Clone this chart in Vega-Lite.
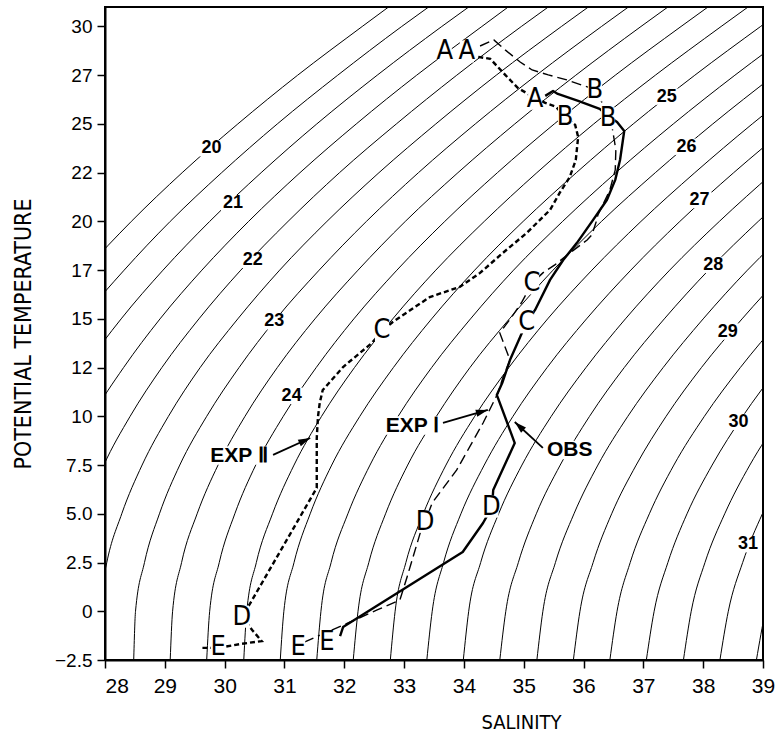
{
  "$schema": "https://vega.github.io/schema/vega-lite/v6.json",
  "width": 658,
  "height": 653,
  "autosize": {"type": "none"},
  "padding": {"left": 105, "top": 7, "right": 15, "bottom": 80},
  "background": "white",
  "datasets": {
    "iso": [
      {"c":20,"s":26.97,"t":15},{"c":20,"s":27.67,"t":17.5},{"c":20,"s":28.44,"t":20},{"c":20,"s":29.29,"t":22.5},{"c":20,"s":30.22,"t":25},{"c":20,"s":31.22,"t":27.5},{"c":20,"s":32.30,"t":30},{"c":20,"s":32.74,"t":31},
      {"c":20.5,"s":27.02,"t":12.5},{"c":20.5,"s":27.62,"t":15},{"c":20.5,"s":28.32,"t":17.5},{"c":20.5,"s":29.09,"t":20},{"c":20.5,"s":29.95,"t":22.5},{"c":20.5,"s":30.88,"t":25},{"c":20.5,"s":31.89,"t":27.5},{"c":20.5,"s":32.96,"t":30},{"c":20.5,"s":33.41,"t":31},
      {"c":21,"s":27.14,"t":10},{"c":21,"s":27.66,"t":12.5},{"c":21,"s":28.27,"t":15},{"c":21,"s":28.97,"t":17.5},{"c":21,"s":29.75,"t":20},{"c":21,"s":30.61,"t":22.5},{"c":21,"s":31.54,"t":25},{"c":21,"s":32.55,"t":27.5},{"c":21,"s":33.63,"t":30},{"c":21,"s":34.08,"t":31},
      {"c":21.5,"s":27.35,"t":7.5},{"c":21.5,"s":27.78,"t":10},{"c":21.5,"s":28.31,"t":12.5},{"c":21.5,"s":28.92,"t":15},{"c":21.5,"s":29.62,"t":17.5},{"c":21.5,"s":30.40,"t":20},{"c":21.5,"s":31.26,"t":22.5},{"c":21.5,"s":32.20,"t":25},{"c":21.5,"s":33.21,"t":27.5},{"c":21.5,"s":34.30,"t":30},{"c":21.5,"s":34.74,"t":31},
      {"c":22,"s":27.65,"t":5},{"c":22,"s":27.98,"t":7.5},{"c":22,"s":28.42,"t":10},{"c":22,"s":28.95,"t":12.5},{"c":22,"s":29.57,"t":15},{"c":22,"s":30.27,"t":17.5},{"c":22,"s":31.06,"t":20},{"c":22,"s":31.92,"t":22.5},{"c":22,"s":32.87,"t":25},{"c":22,"s":33.88,"t":27.5},{"c":22,"s":34.96,"t":30},{"c":22,"s":35.41,"t":31},
      {"c":22.5,"s":27.87,"t":-2.5},{"c":22.5,"s":27.89,"t":0},{"c":22.5,"s":28.03,"t":2.5},{"c":22.5,"s":28.28,"t":5},{"c":22.5,"s":28.62,"t":7.5},{"c":22.5,"s":29.06,"t":10},{"c":22.5,"s":29.59,"t":12.5},{"c":22.5,"s":30.22,"t":15},{"c":22.5,"s":30.92,"t":17.5},{"c":22.5,"s":31.71,"t":20},{"c":22.5,"s":32.58,"t":22.5},{"c":22.5,"s":33.53,"t":25},{"c":22.5,"s":34.54,"t":27.5},{"c":22.5,"s":35.63,"t":30},{"c":22.5,"s":36.08,"t":31},
      {"c":23,"s":28.48,"t":-2.5},{"c":23,"s":28.51,"t":0},{"c":23,"s":28.66,"t":2.5},{"c":23,"s":28.91,"t":5},{"c":23,"s":29.25,"t":7.5},{"c":23,"s":29.70,"t":10},{"c":23,"s":30.24,"t":12.5},{"c":23,"s":30.86,"t":15},{"c":23,"s":31.58,"t":17.5},{"c":23,"s":32.37,"t":20},{"c":23,"s":33.24,"t":22.5},{"c":23,"s":34.19,"t":25},{"c":23,"s":35.21,"t":27.5},{"c":23,"s":36.30,"t":30},{"c":23,"s":36.75,"t":31},
      {"c":23.5,"s":29.09,"t":-2.5},{"c":23.5,"s":29.13,"t":0},{"c":23.5,"s":29.28,"t":2.5},{"c":23.5,"s":29.54,"t":5},{"c":23.5,"s":29.89,"t":7.5},{"c":23.5,"s":30.34,"t":10},{"c":23.5,"s":30.88,"t":12.5},{"c":23.5,"s":31.51,"t":15},{"c":23.5,"s":32.23,"t":17.5},{"c":23.5,"s":33.02,"t":20},{"c":23.5,"s":33.90,"t":22.5},{"c":23.5,"s":34.85,"t":25},{"c":23.5,"s":35.87,"t":27.5},{"c":23.5,"s":36.96,"t":30},{"c":23.5,"s":37.41,"t":31},
      {"c":24,"s":29.70,"t":-2.5},{"c":24,"s":29.75,"t":0},{"c":24,"s":29.91,"t":2.5},{"c":24,"s":30.17,"t":5},{"c":24,"s":30.52,"t":7.5},{"c":24,"s":30.98,"t":10},{"c":24,"s":31.53,"t":12.5},{"c":24,"s":32.16,"t":15},{"c":24,"s":32.88,"t":17.5},{"c":24,"s":33.68,"t":20},{"c":24,"s":34.56,"t":22.5},{"c":24,"s":35.51,"t":25},{"c":24,"s":36.53,"t":27.5},{"c":24,"s":37.63,"t":30},{"c":24,"s":38.08,"t":31},
      {"c":24.5,"s":30.32,"t":-2.5},{"c":24.5,"s":30.37,"t":0},{"c":24.5,"s":30.53,"t":2.5},{"c":24.5,"s":30.80,"t":5},{"c":24.5,"s":31.16,"t":7.5},{"c":24.5,"s":31.62,"t":10},{"c":24.5,"s":32.17,"t":12.5},{"c":24.5,"s":32.81,"t":15},{"c":24.5,"s":33.53,"t":17.5},{"c":24.5,"s":34.34,"t":20},{"c":24.5,"s":35.22,"t":22.5},{"c":24.5,"s":36.17,"t":25},{"c":24.5,"s":37.20,"t":27.5},{"c":24.5,"s":38.30,"t":30},{"c":24.5,"s":38.75,"t":31},
      {"c":25,"s":30.93,"t":-2.5},{"c":25,"s":30.99,"t":0},{"c":25,"s":31.16,"t":2.5},{"c":25,"s":31.43,"t":5},{"c":25,"s":31.79,"t":7.5},{"c":25,"s":32.26,"t":10},{"c":25,"s":32.82,"t":12.5},{"c":25,"s":33.46,"t":15},{"c":25,"s":34.18,"t":17.5},{"c":25,"s":34.99,"t":20},{"c":25,"s":35.88,"t":22.5},{"c":25,"s":36.83,"t":25},{"c":25,"s":37.86,"t":27.5},{"c":25,"s":38.96,"t":30},{"c":25,"s":39.41,"t":31},
      {"c":25.5,"s":31.54,"t":-2.5},{"c":25.5,"s":31.61,"t":0},{"c":25.5,"s":31.78,"t":2.5},{"c":25.5,"s":32.06,"t":5},{"c":25.5,"s":32.43,"t":7.5},{"c":25.5,"s":32.90,"t":10},{"c":25.5,"s":33.46,"t":12.5},{"c":25.5,"s":34.11,"t":15},{"c":25.5,"s":34.83,"t":17.5},{"c":25.5,"s":35.65,"t":20},{"c":25.5,"s":36.54,"t":22.5},{"c":25.5,"s":37.50,"t":25},{"c":25.5,"s":38.53,"t":27.5},{"c":25.5,"s":39.63,"t":30},
      {"c":26,"s":32.15,"t":-2.5},{"c":26,"s":32.23,"t":0},{"c":26,"s":32.41,"t":2.5},{"c":26,"s":32.69,"t":5},{"c":26,"s":33.06,"t":7.5},{"c":26,"s":33.54,"t":10},{"c":26,"s":34.10,"t":12.5},{"c":26,"s":34.76,"t":15},{"c":26,"s":35.49,"t":17.5},{"c":26,"s":36.30,"t":20},{"c":26,"s":37.20,"t":22.5},{"c":26,"s":38.16,"t":25},{"c":26,"s":39.19,"t":27.5},
      {"c":26.5,"s":32.77,"t":-2.5},{"c":26.5,"s":32.85,"t":0},{"c":26.5,"s":33.03,"t":2.5},{"c":26.5,"s":33.32,"t":5},{"c":26.5,"s":33.70,"t":7.5},{"c":26.5,"s":34.18,"t":10},{"c":26.5,"s":34.75,"t":12.5},{"c":26.5,"s":35.40,"t":15},{"c":26.5,"s":36.14,"t":17.5},{"c":26.5,"s":36.96,"t":20},{"c":26.5,"s":37.86,"t":22.5},{"c":26.5,"s":38.82,"t":25},{"c":26.5,"s":39.85,"t":27.5},
      {"c":27,"s":33.38,"t":-2.5},{"c":27,"s":33.47,"t":0},{"c":27,"s":33.66,"t":2.5},{"c":27,"s":33.95,"t":5},{"c":27,"s":34.34,"t":7.5},{"c":27,"s":34.82,"t":10},{"c":27,"s":35.39,"t":12.5},{"c":27,"s":36.05,"t":15},{"c":27,"s":36.79,"t":17.5},{"c":27,"s":37.61,"t":20},{"c":27,"s":38.51,"t":22.5},{"c":27,"s":39.48,"t":25},
      {"c":27.5,"s":33.99,"t":-2.5},{"c":27.5,"s":34.08,"t":0},{"c":27.5,"s":34.28,"t":2.5},{"c":27.5,"s":34.58,"t":5},{"c":27.5,"s":34.97,"t":7.5},{"c":27.5,"s":35.46,"t":10},{"c":27.5,"s":36.04,"t":12.5},{"c":27.5,"s":36.70,"t":15},{"c":27.5,"s":37.44,"t":17.5},{"c":27.5,"s":38.27,"t":20},{"c":27.5,"s":39.17,"t":22.5},
      {"c":28,"s":34.60,"t":-2.5},{"c":28,"s":34.70,"t":0},{"c":28,"s":34.91,"t":2.5},{"c":28,"s":35.21,"t":5},{"c":28,"s":35.61,"t":7.5},{"c":28,"s":36.10,"t":10},{"c":28,"s":36.68,"t":12.5},{"c":28,"s":37.35,"t":15},{"c":28,"s":38.09,"t":17.5},{"c":28,"s":38.92,"t":20},{"c":28,"s":39.83,"t":22.5},
      {"c":28.5,"s":35.22,"t":-2.5},{"c":28.5,"s":35.32,"t":0},{"c":28.5,"s":35.53,"t":2.5},{"c":28.5,"s":35.84,"t":5},{"c":28.5,"s":36.24,"t":7.5},{"c":28.5,"s":36.74,"t":10},{"c":28.5,"s":37.33,"t":12.5},{"c":28.5,"s":38.00,"t":15},{"c":28.5,"s":38.74,"t":17.5},{"c":28.5,"s":39.58,"t":20},
      {"c":29,"s":35.83,"t":-2.5},{"c":29,"s":35.94,"t":0},{"c":29,"s":36.16,"t":2.5},{"c":29,"s":36.47,"t":5},{"c":29,"s":36.88,"t":7.5},{"c":29,"s":37.38,"t":10},{"c":29,"s":37.97,"t":12.5},{"c":29,"s":38.65,"t":15},{"c":29,"s":39.39,"t":17.5},
      {"c":29.5,"s":36.44,"t":-2.5},{"c":29.5,"s":36.56,"t":0},{"c":29.5,"s":36.78,"t":2.5},{"c":29.5,"s":37.10,"t":5},{"c":29.5,"s":37.51,"t":7.5},{"c":29.5,"s":38.02,"t":10},{"c":29.5,"s":38.62,"t":12.5},{"c":29.5,"s":39.30,"t":15},
      {"c":30,"s":37.05,"t":-2.5},{"c":30,"s":37.18,"t":0},{"c":30,"s":37.41,"t":2.5},{"c":30,"s":37.73,"t":5},{"c":30,"s":38.15,"t":7.5},{"c":30,"s":38.66,"t":10},{"c":30,"s":39.26,"t":12.5},
      {"c":30.5,"s":37.67,"t":-2.5},{"c":30.5,"s":37.80,"t":0},{"c":30.5,"s":38.03,"t":2.5},{"c":30.5,"s":38.36,"t":5},{"c":30.5,"s":38.78,"t":7.5},{"c":30.5,"s":39.30,"t":10},
      {"c":31,"s":38.28,"t":-2.5},{"c":31,"s":38.42,"t":0},{"c":31,"s":38.66,"t":2.5},{"c":31,"s":38.99,"t":5},{"c":31,"s":39.42,"t":7.5},
      {"c":31.5,"s":38.89,"t":-2.5},{"c":31.5,"s":39.04,"t":0},{"c":31.5,"s":39.28,"t":2.5}
    ],
    "obs": [
      {"i":1,"s":35.36,"t":26.44},{"i":2,"s":35.49,"t":26.69},{"i":3,"s":35.57,"t":26.54},{"i":4,"s":35.91,"t":26.18},{"i":5,"s":36.27,"t":25.77},{"i":6,"s":36.41,"t":25.41},{"i":7,"s":36.56,"t":25.10},{"i":8,"s":36.68,"t":24.64},{"i":9,"s":36.61,"t":23.15},{"i":10,"s":36.53,"t":22.13},{"i":11,"s":36.39,"t":21.10},{"i":12,"s":36.16,"t":20.08},{"i":13,"s":35.89,"t":18.90},{"i":14,"s":35.66,"t":18.02},{"i":15,"s":35.44,"t":17.00},{"i":16,"s":35.19,"t":15.46},{"i":17,"s":35.05,"t":14.84},{"i":18,"s":34.94,"t":14.07},{"i":19,"s":34.77,"t":12.89},{"i":20,"s":34.64,"t":11.71},{"i":21,"s":34.55,"t":11.10},{"i":22,"s":34.85,"t":8.63},{"i":23,"s":34.49,"t":6.22},{"i":24,"s":34.47,"t":5.35},{"i":25,"s":34.32,"t":4.53},{"i":26,"s":33.98,"t":3.04},{"i":27,"s":31.98,"t":-0.81},{"i":28,"s":31.93,"t":-1.27}
    ],
    "exp1": [
      {"i":1,"s":34.27,"t":29.00},{"i":2,"s":34.50,"t":29.31},{"i":3,"s":34.69,"t":28.80},{"i":4,"s":34.94,"t":28.18},{"i":5,"s":35.14,"t":27.77},{"i":6,"s":35.41,"t":27.52},{"i":7,"s":35.72,"t":27.26},{"i":8,"s":36.11,"t":26.85},{"i":9,"s":36.22,"t":26.75},{"i":10,"s":36.48,"t":24.80},{"i":11,"s":36.54,"t":23.67},{"i":12,"s":36.53,"t":22.64},{"i":13,"s":36.44,"t":21.61},{"i":14,"s":36.24,"t":20.33},{"i":15,"s":36.21,"t":19.97},{"i":16,"s":36.14,"t":19.31},{"i":17,"s":36.06,"t":19.05},{"i":18,"s":35.77,"t":18.38},{"i":19,"s":35.52,"t":17.77},{"i":20,"s":35.32,"t":17.36},{"i":21,"s":35.14,"t":16.84},{"i":22,"s":34.97,"t":15.87},{"i":23,"s":34.80,"t":15.10},{"i":24,"s":34.60,"t":14.28},{"i":25,"s":34.77,"t":12.89},{"i":26,"s":34.65,"t":11.97},{"i":27,"s":34.57,"t":11.20},{"i":28,"s":34.47,"t":10.58},{"i":29,"s":34.32,"t":9.66},{"i":30,"s":33.88,"t":7.25},{"i":31,"s":33.47,"t":5.56},{"i":32,"s":33.35,"t":4.58},{"i":33,"s":33.27,"t":4.02},{"i":34,"s":33.05,"t":1.76},{"i":35,"s":32.93,"t":0.58},{"i":36,"s":32.55,"t":0.07},{"i":37,"s":32.10,"t":-0.55},{"i":38,"s":31.56,"t":-1.27},{"i":39,"s":31.23,"t":-1.73}
    ],
    "exp2": [
      {"i":1,"s":34.24,"t":28.44},{"i":2,"s":34.44,"t":28.34},{"i":3,"s":34.55,"t":27.98},{"i":4,"s":34.69,"t":27.52},{"i":5,"s":34.90,"t":26.85},{"i":6,"s":35.10,"t":26.49},{"i":7,"s":35.19,"t":26.34},{"i":8,"s":35.36,"t":26.08},{"i":9,"s":35.54,"t":25.88},{"i":10,"s":35.69,"t":25.36},{"i":11,"s":35.86,"t":24.95},{"i":12,"s":35.91,"t":24.33},{"i":13,"s":35.87,"t":23.15},{"i":14,"s":35.77,"t":22.28},{"i":15,"s":35.61,"t":21.51},{"i":16,"s":35.44,"t":20.59},{"i":17,"s":35.05,"t":19.41},{"i":18,"s":34.65,"t":18.38},{"i":19,"s":34.27,"t":17.36},{"i":20,"s":33.93,"t":16.64},{"i":21,"s":33.43,"t":16.12},{"i":22,"s":32.81,"t":14.84},{"i":23,"s":32.65,"t":14.43},{"i":24,"s":32.46,"t":13.76},{"i":25,"s":31.98,"t":12.53},{"i":26,"s":31.64,"t":11.35},{"i":27,"s":31.59,"t":10.69},{"i":28,"s":31.56,"t":9.97},{"i":29,"s":31.54,"t":8.89},{"i":30,"s":31.54,"t":6.33},{"i":31,"s":30.46,"t":0.58},{"i":32,"s":30.29,"t":-0.29},{"i":33,"s":30.46,"t":-0.96},{"i":34,"s":30.62,"t":-1.53},{"i":35,"s":30.26,"t":-1.68},{"i":36,"s":29.89,"t":-1.88},{"i":37,"s":29.59,"t":-1.88}
    ],
    "letters": [
      {"L":"A","s":33.68,"t":28.72},{"L":"A","s":34.05,"t":28.72},{"L":"A","s":35.19,"t":26.29},
      {"L":"B","s":36.19,"t":26.72},{"L":"B","s":35.69,"t":25.38},{"L":"B","s":36.41,"t":25.29},
      {"L":"C","s":32.63,"t":14.43},{"L":"C","s":35.14,"t":16.82},{"L":"C","s":35.05,"t":14.82},
      {"L":"D","s":30.29,"t":-0.28},{"L":"D","s":33.35,"t":4.59},{"L":"D","s":34.46,"t":5.37},
      {"L":"E","s":29.89,"t":-1.83},{"L":"E","s":31.23,"t":-1.83},{"L":"E","s":31.71,"t":-1.58}
    ],
    "nums": [
      {"n":"20","s":29.78,"t":23.75},{"n":"21","s":30.14,"t":20.93},{"n":"22","s":30.47,"t":18.03},{"n":"23","s":30.83,"t":14.87},{"n":"24","s":31.12,"t":11.05},
      {"n":"25","s":37.39,"t":26.40},{"n":"26","s":37.72,"t":23.83},{"n":"27","s":37.94,"t":21.10},{"n":"28","s":38.17,"t":17.77},{"n":"29","s":38.41,"t":14.35},{"n":"30","s":38.59,"t":9.72},{"n":"31","s":38.75,"t":3.44}
    ],
    "ann": [
      {"lab":"EXP Ⅱ","s":30.24,"t":7.99},{"lab":"EXP Ⅰ","s":33.14,"t":9.53},{"lab":"OBS","s":35.77,"t":8.27}
    ],
    "arrows": [
      {"a":"x2","i":0,"s":30.81,"t":8.02},{"a":"x2","i":1,"s":31.43,"t":8.89},
      {"a":"x1","i":0,"s":33.65,"t":9.66},{"a":"x1","i":1,"s":34.40,"t":10.33},
      {"a":"ob","i":0,"s":35.32,"t":8.38},{"a":"ob","i":1,"s":34.85,"t":9.71}
    ]
  },
  "encoding": {
    "x": {
      "field": "s", "type": "quantitative",
      "scale": {"domain": [28, 39], "nice": false, "zero": false},
      "axis": {
        "title": "SALINITY",
        "values": [28, 29, 30, 31, 32, 33, 34, 35, 36, 37, 38, 39],
        "format": "d",
        "labelFontSize": 21,
        "labelFlush": false,
        "labelOverlap": false,
        "labelPadding": 7,
        "labelAlign": {"condition": {"test": "datum.value == 28", "value": "left"}, "value": "center"},
        "titleX": 416,
        "titleY": 68,
        "titleAlign": "center",
        "titleBaseline": "alphabetic",
        "titleFontSize": 20
      }
    },
    "y": {
      "field": "t", "type": "quantitative",
      "scale": {"domain": [-2.5, 31], "nice": false, "zero": false},
      "axis": {
        "title": "POTENTIAL TEMPERATURE",
        "values": [-2.5, 0, 2.5, 5, 7.5, 10, 12.5, 15, 17.5, 20, 22.5, 25, 27.5, 30],
        "labelExpr": "datum.value == -2.5 ? '−2.5' : datum.value == 0 ? '0' : datum.value == 2.5 ? '2.5' : datum.value == 5 ? '5.0' : datum.value == 7.5 ? '7.5' : '' + floor(datum.value)",
        "labelFontSize": 19,
        "labelPadding": 5,
        "labelOverlap": false,
        "titleX": -75,
        "titleY": 326.5,
        "titleAngle": 270,
        "titleAlign": "center",
        "titleBaseline": "alphabetic",
        "titleFontSize": 23
      }
    }
  },
  "layer": [
    {
      "data": {"name": "iso"},
      "mark": {"type": "line", "clip": true, "interpolate": "monotone", "color": "black", "strokeWidth": 1},
      "encoding": {"detail": {"field": "c", "type": "nominal"}}
    },
    {
      "data": {"name": "obs"},
      "mark": {"type": "line", "clip": true, "color": "black", "strokeWidth": 2.4, "strokeJoin": "round"},
      "encoding": {"order": {"field": "i", "type": "quantitative"}}
    },
    {
      "data": {"name": "exp1"},
      "mark": {"type": "line", "clip": true, "color": "black", "strokeWidth": 1.4, "strokeDash": [10, 5]},
      "encoding": {"order": {"field": "i", "type": "quantitative"}}
    },
    {
      "data": {"name": "exp2"},
      "mark": {"type": "line", "clip": true, "color": "black", "strokeWidth": 2.4, "strokeDash": [5, 3]},
      "encoding": {"order": {"field": "i", "type": "quantitative"}}
    },
    {
      "data": {"name": "letters"},
      "mark": {"type": "point", "shape": "M-0.64,-1L0.64,-1L0.64,1L-0.64,1Z", "size": 484, "filled": true, "color": "white", "opacity": 1, "strokeWidth": 0}
    },
    {
      "data": {"name": "nums"},
      "mark": {"type": "point", "shape": "M-1,-0.68L1,-0.68L1,0.68L-1,0.68Z", "size": 576, "filled": true, "color": "white", "opacity": 1, "strokeWidth": 0}
    },
    {
      "data": {"name": "ann"},
      "mark": {"type": "point", "size": 4096, "filled": true, "color": "white", "opacity": 1, "strokeWidth": 0},
      "encoding": {
        "shape": {
          "field": "lab", "type": "nominal",
          "scale": {"domain": ["EXP Ⅱ", "EXP Ⅰ", "OBS"], "range": ["M-1,-0.29L1,-0.29L1,0.29L-1,0.29Z", "M-0.87,-0.29L0.87,-0.29L0.87,0.29L-0.87,0.29Z", "M-0.77,-0.29L0.77,-0.29L0.77,0.29L-0.77,0.29Z"]},
          "legend": null
        }
      }
    },
    {
      "data": {"name": "letters"},
      "mark": {"type": "text", "font": "Liberation Sans Narrow, DejaVu Sans Condensed, Roboto Condensed, sans-serif", "fontSize": 27, "align": "center", "baseline": "middle", "color": "black"},
      "encoding": {"text": {"field": "L", "type": "nominal"}}
    },
    {
      "data": {"name": "nums"},
      "mark": {"type": "text", "font": "Liberation Sans", "fontSize": 18, "fontWeight": "bold", "align": "center", "baseline": "middle", "color": "black"},
      "encoding": {"text": {"field": "n", "type": "nominal"}}
    },
    {
      "data": {"name": "ann"},
      "mark": {"type": "text", "font": "Liberation Sans", "fontSize": 21, "fontWeight": "bold", "align": "center", "baseline": "middle", "color": "black"},
      "encoding": {"text": {"field": "lab", "type": "nominal"}}
    },
    {
      "data": {"name": "arrows"},
      "mark": {"type": "line", "color": "black", "strokeWidth": 1.8},
      "encoding": {"detail": {"field": "a", "type": "nominal"}, "order": {"field": "i", "type": "quantitative"}}
    },
    {
      "data": {"values": [{"s": 31.43, "t": 8.89}]},
      "mark": {"type": "point", "shape": "M0,0L-0.45,1.5L0.45,1.5Z", "size": 256, "filled": true, "color": "black", "opacity": 1, "angle": 65}
    },
    {
      "data": {"values": [{"s": 34.40, "t": 10.33}]},
      "mark": {"type": "point", "shape": "M0,0L-0.45,1.5L0.45,1.5Z", "size": 256, "filled": true, "color": "black", "opacity": 1, "angle": 74}
    },
    {
      "data": {"values": [{"s": 34.85, "t": 9.71}]},
      "mark": {"type": "point", "shape": "M0,0L-0.45,1.5L0.45,1.5Z", "size": 256, "filled": true, "color": "black", "opacity": 1, "angle": 313}
    }
  ],
  "config": {
    "view": {"stroke": "black", "strokeWidth": 2},
    "axis": {
      "domainColor": "black",
      "domainWidth": 2,
      "tickColor": "black",
      "tickWidth": 1.5,
      "tickSize": 8,
      "labelColor": "black",
      "labelFont": "Liberation Sans",
      "titleColor": "black",
      "titleFont": "Liberation Sans Narrow, DejaVu Sans Condensed, Roboto Condensed, sans-serif",
      "titleFontWeight": "normal",
      "grid": false
    }
  }
}
